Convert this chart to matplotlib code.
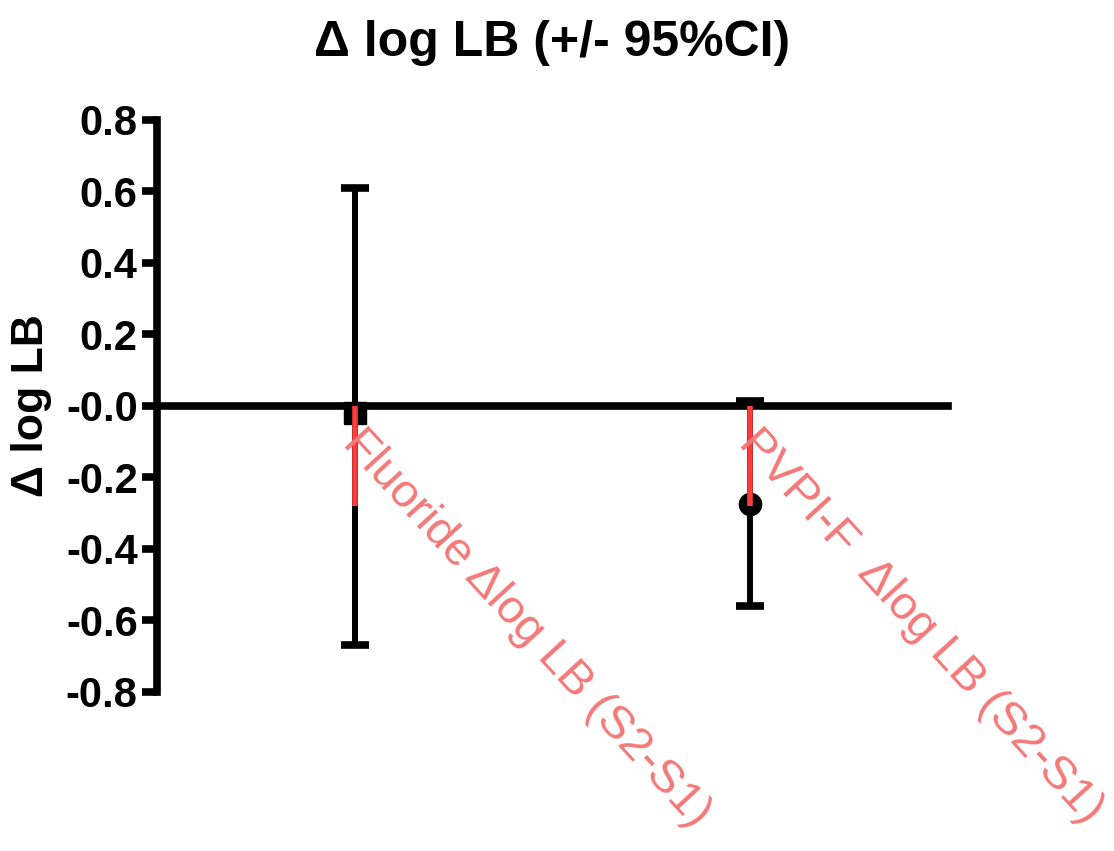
import numpy as np
import matplotlib
matplotlib.use('Agg')
import matplotlib.pyplot as plt

plt.rcParams['font.family'] = ['Liberation Sans', 'DejaVu Sans']

# values
groups = ['Fluoride', 'PVPI-F']
tick_labels = ['Fluoride \u0394log LB (S2-S1)', 'PVPI-F  \u0394log LB (S2-S1)']
means = np.array([-0.02, -0.275])
ci_low = np.array([-0.67, -0.56])
ci_high = np.array([0.61, 0.015])
yticks = [-0.8, -0.6, -0.4, -0.2, 0.0, 0.2, 0.4, 0.6, 0.8]
ytick_labels = ['-0.8', '-0.6', '-0.4', '-0.2', '-0.0', '0.2', '0.4', '0.6', '0.8']

marker_styles = ['s', 'o']
label_red = '#f47878'
tick_red = '#ff3b3b'

fig = plt.figure(figsize=(11.14, 8.51), dpi=100)
ax = fig.add_axes([0.141, 0.187, 0.71, 0.672])

x = np.arange(len(groups))
for i in x:
    ax.errorbar(x[i], means[i],
                yerr=[[means[i] - ci_low[i]], [ci_high[i] - means[i]]],
                fmt=marker_styles[i], color='k', markersize=16,
                elinewidth=4.3, capsize=10, capthick=5.5, zorder=2)

ax.set_xlim(-0.5, 1.5)
ax.set_ylim(-0.8, 0.8)

ax.spines['top'].set_visible(False)
ax.spines['right'].set_visible(False)
ax.spines['bottom'].set_position(('data', 0))
ax.spines['left'].set_linewidth(5.5)
ax.spines['bottom'].set_linewidth(5.5)
ax.spines['left'].set_bounds(-0.8, 0.8)
ax.set_axisbelow(False)

ax.set_yticks(yticks)
ax.set_yticklabels(ytick_labels, fontsize=30, fontweight='bold')
ax.tick_params(axis='y', length=11, width=5.5, pad=3)

ax.set_xticks(x)
ax.set_xticklabels([''] * len(groups))
ax.tick_params(axis='x', length=72, width=4, color=tick_red, direction='out')

for i in x:
    ax.annotate(tick_labels[i], xy=(x[i], 0), xytext=(-3, -22),
                textcoords='offset points', rotation=-47.5,
                rotation_mode='anchor', ha='left', va='center',
                fontsize=34, color=label_red, annotation_clip=False)

ax.set_ylabel('\u0394 log LB', fontsize=32, fontweight='bold', labelpad=10)
ax.set_title('\u0394 log LB (+/- 95%CI)', fontsize=36, fontweight='bold', pad=46)

plt.savefig('out.png', dpi=100)
